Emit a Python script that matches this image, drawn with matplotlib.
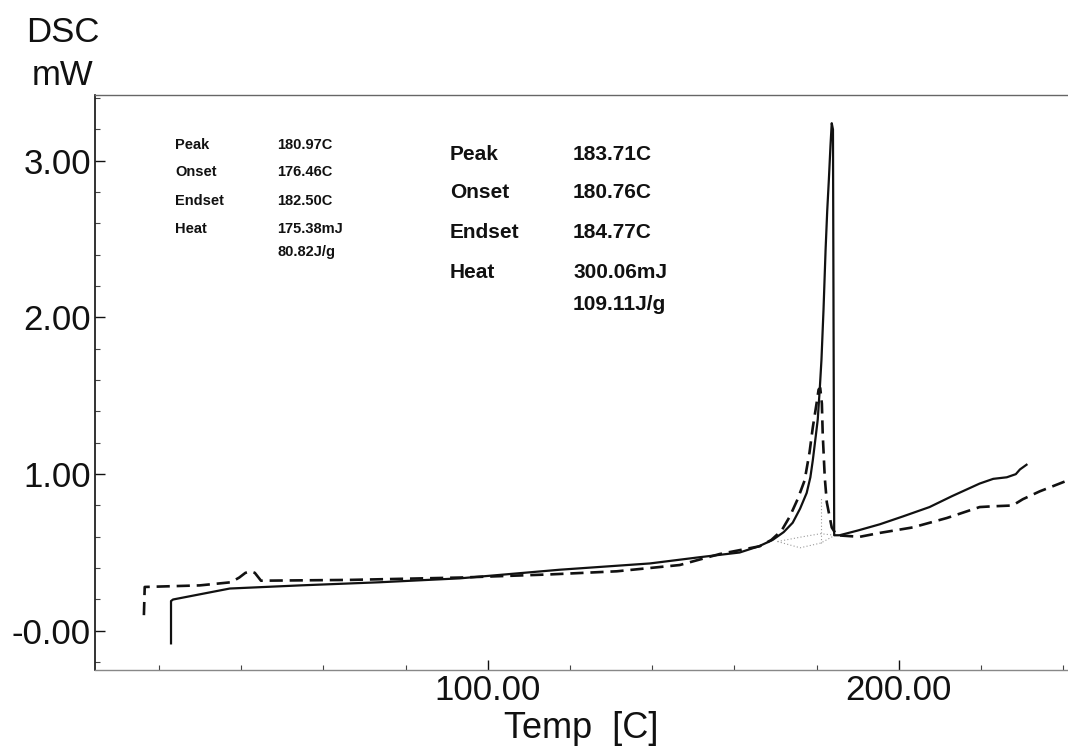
import matplotlib
matplotlib.use("Agg")
import matplotlib.pyplot as plt
from matplotlib.ticker import FixedLocator, MultipleLocator

# --- DSC traces ---------------------------------------------------------
# solid trace: sample with melting peak at 183.71 C
temp_solid = [22.9, 22.9, 23.4, 37.2, 54.3, 73.7, 93.2, 117.5, 139.4, 151.6,
              161.3, 166.0, 169.3, 172.0, 174.2, 176.0, 177.6, 178.5, 179.1,
              179.8, 180.3, 180.8, 181.2, 181.7, 182.2, 182.6, 183.0, 183.4,
              183.7, 184.0, 184.3, 185.6, 190.0, 195.4, 201.0, 207.5, 213.0,
              219.7, 223.0, 226.3, 228.5, 229.5, 231.1]
dsc_solid = [-0.08, 0.19, 0.20, 0.27, 0.29, 0.31, 0.335, 0.39, 0.43, 0.47,
             0.50, 0.54, 0.58, 0.63, 0.69, 0.78, 0.88, 0.98, 1.09,
             1.24, 1.35, 1.55, 1.73, 2.05, 2.43, 2.68, 2.88, 3.10,
             3.24, 3.20, 0.61, 0.61, 0.64, 0.68, 0.73, 0.79, 0.86,
             0.94, 0.97, 0.98, 1.00, 1.03, 1.06]

# dashed trace: sample with melting peak at 180.97 C
temp_dashed = [16.3, 16.5, 29.9, 37.5, 39.5, 41.0, 42.3, 43.3, 44.2, 44.8,
               66.4, 93.2, 115.1, 131.4, 146.7, 156.4, 166.2, 169.0, 171.5,
               173.5, 175.4, 177.1, 178.3, 179.1, 180.0, 180.5, 180.9, 181.3,
               181.5, 182.0, 182.5, 183.7, 184.9, 190.5, 195.4, 203.4, 211.7,
               219.7, 223.0, 227.7, 230.2, 234.3, 241.1]
dsc_dashed = [0.10, 0.28, 0.29, 0.31, 0.34, 0.37, 0.38, 0.37, 0.34, 0.32,
              0.325, 0.34, 0.36, 0.38, 0.42, 0.49, 0.54, 0.58, 0.64,
              0.73, 0.84, 0.96, 1.14, 1.30, 1.45, 1.54, 1.55, 1.45,
              1.26, 0.98, 0.82, 0.66, 0.61, 0.60, 0.625, 0.66, 0.72,
              0.79, 0.795, 0.80, 0.84, 0.89, 0.96]

# integration baselines under the melting peaks
base_upper_temp = [170.5, 176.5, 181.0, 184.5]
base_upper_dsc = [0.57, 0.60, 0.62, 0.61]
base_lower_temp = [170.5, 176.0, 181.0, 184.5]
base_lower_dsc = [0.57, 0.53, 0.56, 0.61]
peak_marker_temp = [181.0, 181.0]
peak_marker_dsc = [0.56, 0.85]

# --- axis ticks -----------------------------------------------------------
xtick_values = [100, 200]
xtick_labels = ["100.00", "200.00"]
ytick_values = [0, 1, 2, 3]
ytick_labels = ["-0.00", "1.00", "2.00", "3.00"]

# --- peak analysis results ------------------------------------------------
result_keys = ["Peak", "Onset", "Endset", "Heat", ""]
results_dashed = ["180.97C", "176.46C", "182.50C", "175.38mJ", "80.82J/g"]
results_solid = ["183.71C", "180.76C", "184.77C", "300.06mJ", "109.11J/g"]

W, H = 1068, 756
fig = plt.figure(figsize=(W / 100, H / 100), dpi=100)
plt.rcParams["font.family"] = ["Liberation Sans", "DejaVu Sans"]


def fx(px):
    return px / W


def fy(py):
    return 1 - py / H


ax = fig.add_axes([fx(95), fy(670), 1 - fx(95), (670 - 95) / H])

ink = "#111111"
ax.plot(base_upper_temp, base_upper_dsc, color="#9a9a9a", lw=0.8, ls=(0, (1, 2)))
ax.plot(base_lower_temp, base_lower_dsc, color="#9a9a9a", lw=0.8, ls=(0, (1, 2)))
ax.plot(peak_marker_temp, peak_marker_dsc, color="#9a9a9a", lw=0.8, ls=(0, (1, 2)))
ax.plot(temp_solid, dsc_solid, color=ink, lw=1.6)
ax.plot(temp_dashed, dsc_dashed, color=ink, lw=1.9, dashes=(5, 2.6))

ax.set_xlim(4.4, 241.2)
ax.set_ylim(-0.25, 3.42)

ax.xaxis.set_major_locator(FixedLocator(xtick_values))
ax.set_xticklabels(xtick_labels)
ax.xaxis.set_minor_locator(MultipleLocator(20))
ax.yaxis.set_major_locator(FixedLocator(ytick_values))
ax.set_yticklabels(ytick_labels)
ax.yaxis.set_minor_locator(MultipleLocator(0.2))

ax.tick_params(which="major", direction="in", length=7, width=1.0,
               labelsize=25, pad=3, colors="#111111")
ax.tick_params(which="minor", direction="in", length=3.5, width=0.8,
               color="#444444")

ax.spines["right"].set_visible(False)
ax.spines["left"].set_color("#111111")
ax.spines["left"].set_linewidth(1.2)
ax.spines["top"].set_color("#666666")
ax.spines["top"].set_linewidth(1.0)
ax.spines["bottom"].set_color("#888888")
ax.spines["bottom"].set_linewidth(1.0)

ax.set_xlabel("Temp  [C]", fontsize=26, labelpad=3, color="#111111")

# y-axis title in the top-left corner
fig.text(fx(63), fy(42), "DSC", fontsize=25, ha="center", va="baseline",
         color="#111111")
fig.text(fx(63), fy(85), "mW", fontsize=25, ha="center", va="baseline",
         color="#111111")

# small result block (dashed trace)
small_rows = [145, 172, 201, 229, 252]
for key, val, py in zip(result_keys, results_dashed, small_rows):
    if key:
        fig.text(fx(175), fy(py), key, fontsize=10.5, fontweight="bold",
                 va="center", ha="left", color="#111111")
    fig.text(fx(277), fy(py), val, fontsize=10.5, fontweight="bold",
             va="center", ha="left", color="#111111")

# large result block (solid trace)
large_rows = [155, 193, 232, 272, 304]
for key, val, py in zip(result_keys, results_solid, large_rows):
    if key:
        fig.text(fx(450), fy(py), key, fontsize=15, fontweight="bold",
                 va="center", ha="left", color="#111111")
    fig.text(fx(573), fy(py), val, fontsize=15, fontweight="bold",
             va="center", ha="left", color="#111111")

fig.savefig("out.png", dpi=100, facecolor="white")
